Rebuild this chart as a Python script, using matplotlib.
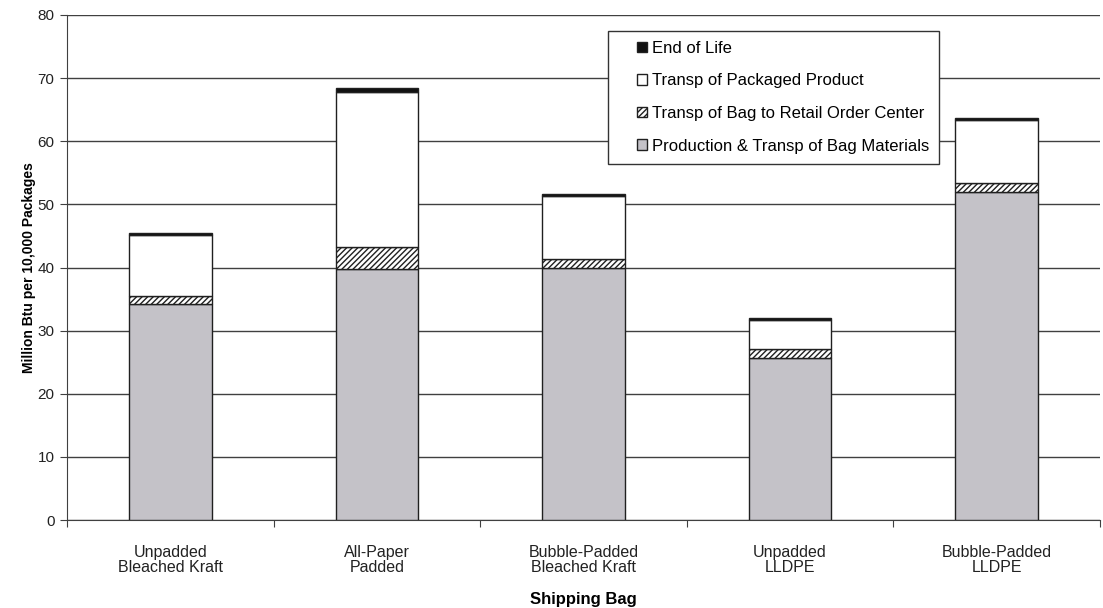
import numpy as np
import matplotlib
matplotlib.use("Agg")
import matplotlib.pyplot as plt
from matplotlib.patches import Patch, Rectangle
from matplotlib.legend_handler import HandlerPatch

plt.rcParams['font.family'] = ['Liberation Sans', 'DejaVu Sans']
plt.rcParams['hatch.linewidth'] = 1.0

# data
bags = ["Unpadded\nBleached Kraft", "All-Paper\nPadded", "Bubble-Padded\nBleached Kraft",
        "Unpadded\nLLDPE", "Bubble-Padded\nLLDPE"]
production = [34.2, 39.8, 40.0, 25.7, 52.0]
bag_transp = [1.3, 3.4, 1.4, 1.4, 1.4]
product_transp = [9.7, 24.6, 9.9, 4.6, 9.9]
end_of_life = [0.3, 0.7, 0.4, 0.3, 0.4]

names = ["Production & Transp of Bag Materials", "Transp of Bag to Retail Order Center",
         "Transp of Packaged Product", "End of Life"]


def small_square(legend, orig_handle, xdescent, ydescent, width, height, fontsize):
    # square key sitting at the right end of the handle box
    s = height
    return Rectangle((-xdescent + width - s, -ydescent), s, s)


fig = plt.figure(figsize=(11.03, 6.08), dpi=100)
ax = fig.add_axes([67/1103, 88/608, 1033/1103, 505/608])

x = np.arange(len(bags))
w = 0.4
edge = '#202020'
ax.bar(x, production, w, color='#c4c2c8', edgecolor=edge, linewidth=1, zorder=3)
bottom = np.array(production)
ax.bar(x, bag_transp, w, bottom=bottom, color='white', edgecolor=edge,
       hatch='//////', linewidth=1, zorder=3)
bottom = bottom + np.array(bag_transp)
ax.bar(x, product_transp, w, bottom=bottom, color='white', edgecolor=edge, linewidth=1, zorder=3)
bottom = bottom + np.array(product_transp)
ax.bar(x, end_of_life, w, bottom=bottom, color='#111111', edgecolor=edge, linewidth=1, zorder=3)

ax.set_xlim(-0.5, len(bags) - 0.5)
ax.set_ylim(0, 80)
ax.set_yticks(np.arange(0, 81, 10))
ax.yaxis.grid(True, color='#404040', linewidth=1, zorder=0)
ax.set_axisbelow(True)

# category boundaries get the tick marks, labels sit in between
ax.set_xticks(np.arange(-0.5, len(bags)))
ax.set_xticklabels([])
ax.set_xticks(x, minor=True)
ax.set_xticklabels(bags, minor=True, fontsize=11.5, color='#222222', linespacing=1.0)
ax.tick_params(axis='x', which='minor', length=0, pad=18)
ax.tick_params(axis='x', which='major', length=5, color='#404040', direction='out')
ax.tick_params(axis='y', length=5, color='#404040', labelsize=11, labelcolor='#222222', pad=4)

for s in ['top', 'right']:
    ax.spines[s].set_visible(False)
for s in ['left', 'bottom']:
    ax.spines[s].set_color('#404040')

ax.set_ylabel("Million Btu per 10,000 Packages", fontsize=10, fontweight='bold',
              labelpad=1)
ax.set_xlabel("Shipping Bag", fontsize=12, fontweight='bold', labelpad=12)

handles = [Patch(facecolor='#111111', edgecolor=edge, label=names[3]),
           Patch(facecolor='white', edgecolor=edge, label=names[2]),
           Patch(facecolor='white', edgecolor=edge, hatch='//////', label=names[1]),
           Patch(facecolor='#c4c2c8', edgecolor=edge, label=names[0])]
leg = ax.legend(handles=handles, loc='upper left', bbox_to_anchor=(541/1033, 1 - 16/505),
                handler_map={Patch: HandlerPatch(patch_func=small_square)},
                fontsize=12, fancybox=False, framealpha=1, edgecolor='#333333',
                handlelength=1.75, handleheight=0.6, handletextpad=0.3,
                labelspacing=1.05, borderpad=0.6, borderaxespad=0)
leg.get_frame().set_linewidth(1)
leg.set_zorder(5)

plt.savefig('out.png', dpi=100)
